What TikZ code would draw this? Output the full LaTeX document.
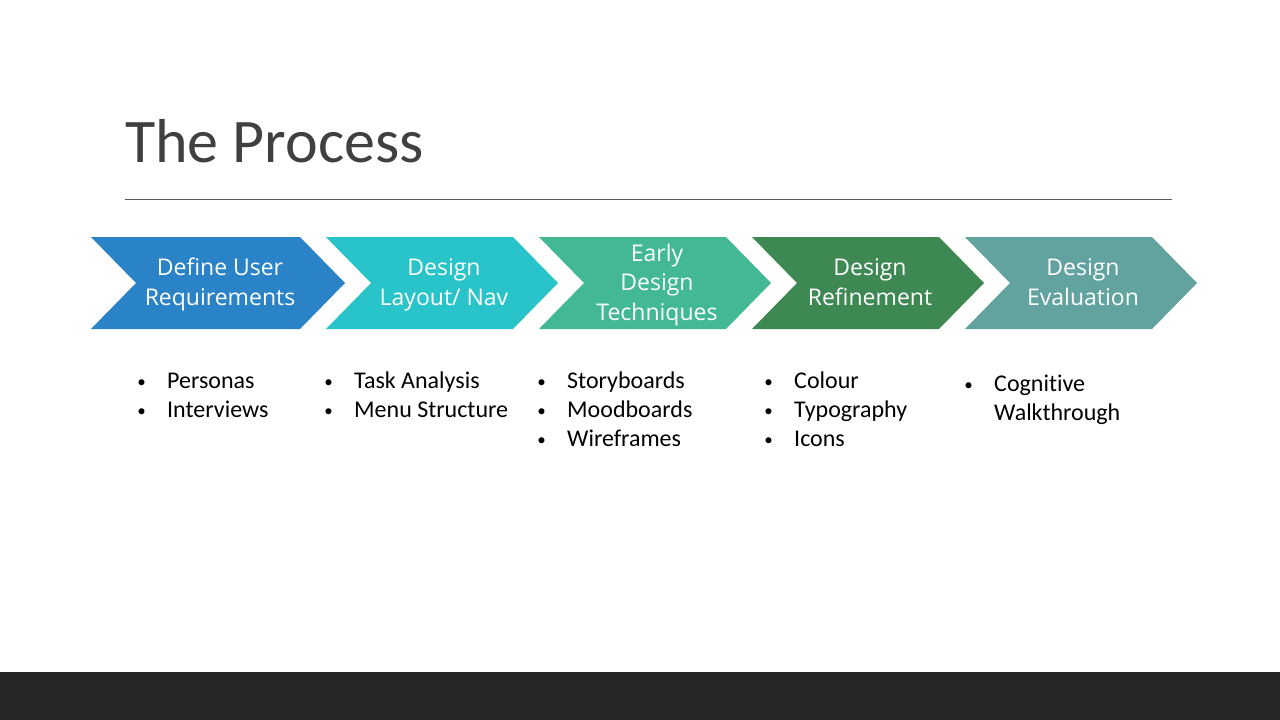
\documentclass[tikz,border=0pt]{standalone}
\usepackage{fontspec}
\setmainfont[Ligatures={NoCommon}]{Carlito}
\newfontfamily\chevfont{Open Sans}
\definecolor{cA}{HTML}{2983C6}
\definecolor{cB}{HTML}{29C4C9}
\definecolor{cC}{HTML}{42B994}
\definecolor{cD}{HTML}{3E8853}
\definecolor{cE}{HTML}{62A39F}
\definecolor{titlegray}{HTML}{404040}
\definecolor{rulegray}{HTML}{595959}
\definecolor{barcol}{HTML}{262626}
\tikzset{
  chevtext/.style={text=white, align=center, inner sep=0pt, anchor=base,
    font=\chevfont\fontsize{23}{29.5}\selectfont},
  bullet/.style={anchor=base west, inner sep=0pt,
    font=\fontsize{24}{29}\selectfont},
  dot/.style={anchor=center, inner sep=0pt,
    font=\fontsize{17}{20}\selectfont},
}
% chevron: left x, top-right x, fill colour
\newcommand{\chevron}[3]{%
  \fill[#3] (#1,237) -- (#2,237) -- (#2+45,283) -- (#2,329) -- (#1,329) -- (#1+45,283) -- cycle;}
\begin{document}
\begin{tikzpicture}[x=1pt,y=-1pt]
\useasboundingbox (0,0) rectangle (1280,720);
\fill[white] (0,0) rectangle (1280,720);
\fill[barcol] (0,672) rectangle (1280,720);

% title and rule
\node[anchor=base west, inner sep=0pt, text=titlegray,
  font=\fontsize{62}{68}\selectfont] (title) at (125,162) {The Process};
\draw[rulegray, line width=0.9pt] (125,199.5) -- (1172,199.5);

% chevrons
\chevron{91}{300}{cA}
\chevron{326}{513}{cB}
\chevron{539}{726}{cC}
\chevron{752}{939}{cD}
\chevron{965}{1152}{cE}

% stage labels (anchored at the baseline of the last line)
\node[chevtext] (s1) at (220,305) {Define User\\Requirements};
\node[chevtext] (s2) at (444,305) {Design\\Layout/ Nav};
\node[chevtext] (s3) at (657,320) {Early\\Design\\Techniques};
\node[chevtext] (s4) at (870,305) {Design\\Refinement};
\node[chevtext] (s5) at (1083,305) {Design\\Evaluation};

% bullet lists
\foreach \bx/\ty/\txt [count=\i] in {
  141/388/Personas, 141/417/Interviews,
  328/388/Task Analysis, 328/417/Menu Structure,
  541/388/Storyboards, 541/417/Moodboards, 541/446/Wireframes,
  768/388/Colour, 768/417/Typography, 768/446/Icons,
  968/391/Cognitive}{
  \node[dot] (b\i) at (\bx+0.5,\ty-4) {\textbullet};
  \node[bullet] (t\i) at (\bx+26,\ty) {\txt};
}
\node[bullet] (t12) at (994,420) {Walkthrough};
\end{tikzpicture}
\end{document}
